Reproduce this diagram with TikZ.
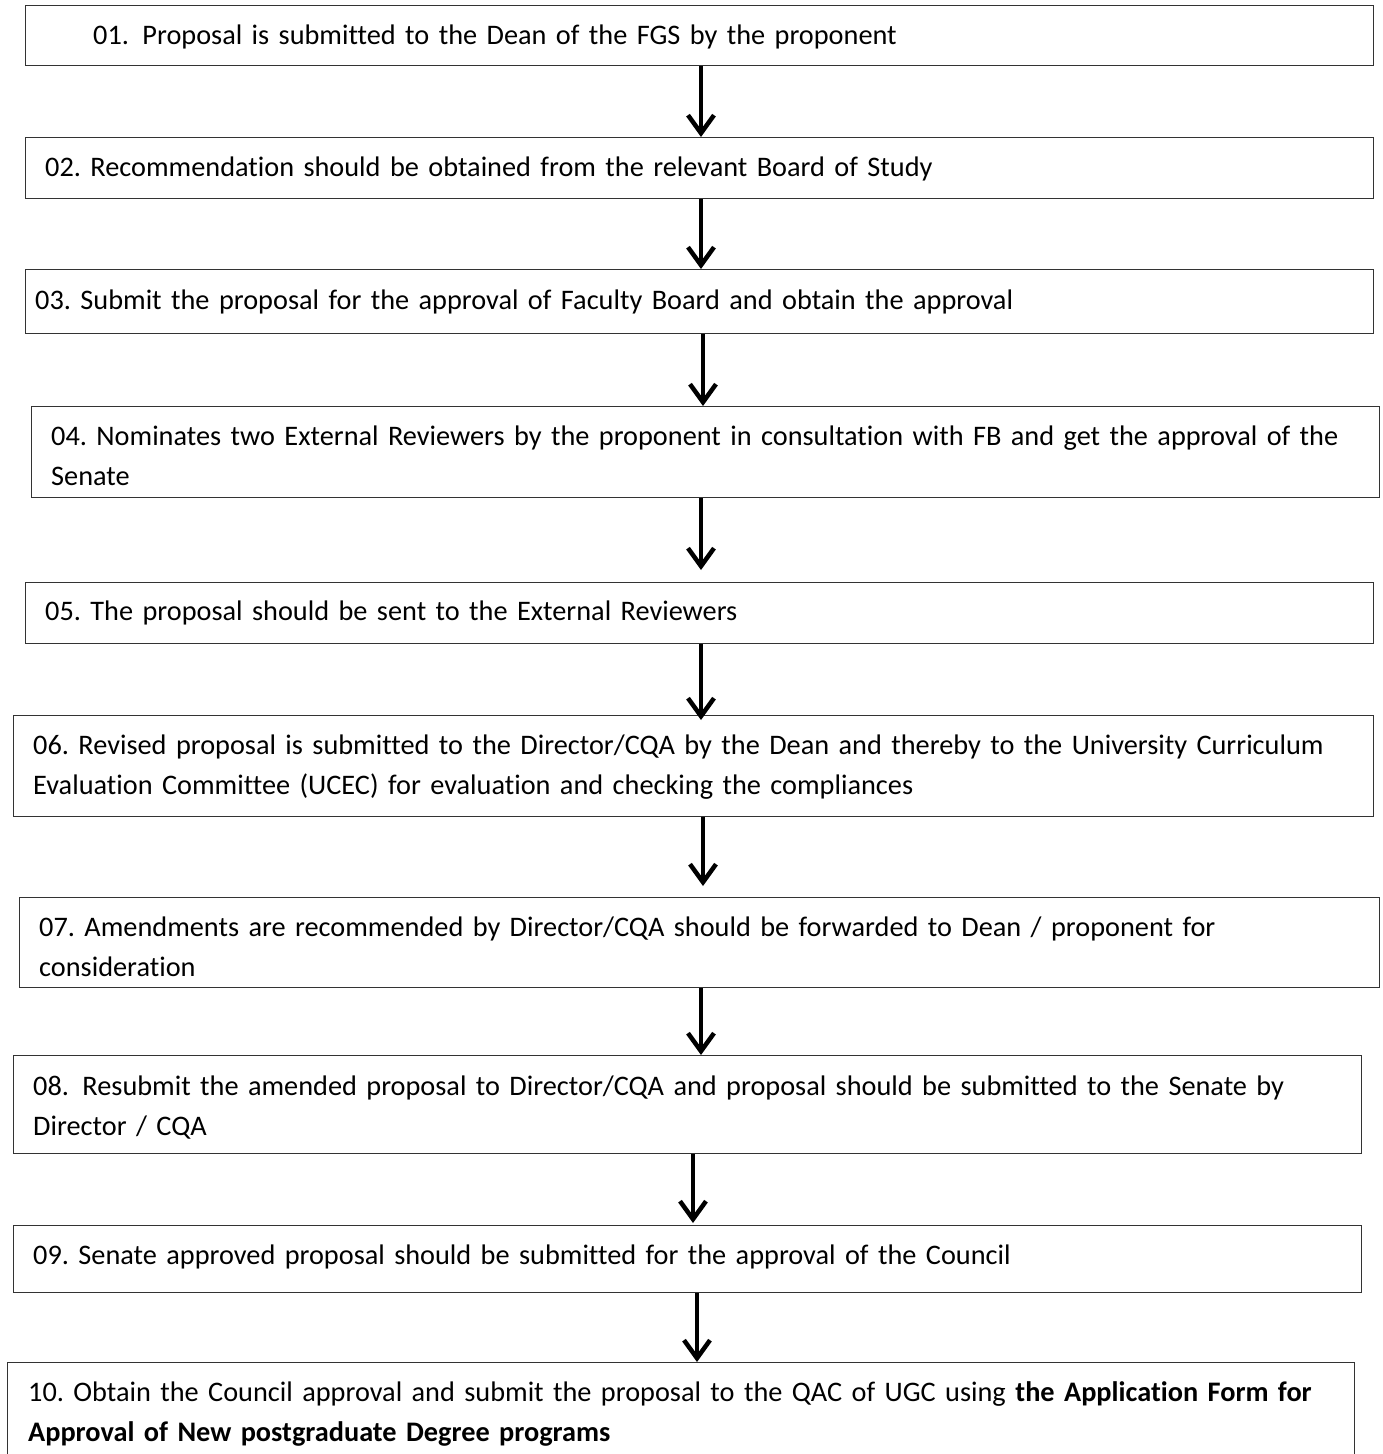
\documentclass[tikz,border=0pt]{standalone}
\usepackage{fontspec}
\setmainfont{Carlito}[Ligatures=NoCommon]
\usetikzlibrary{arrows.meta}
\begin{document}
\frenchspacing
\begin{tikzpicture}[x=1pt,y=1pt,
  stepbox/.style={rectangle, draw=black!80, line width=1.3pt, inner sep=0pt, anchor=north west},
  steptext/.style={anchor=base west, inner sep=0pt, text width=1340pt, align=left,
    font=\frenchspacing\fontsize{28.3}{40.5}\selectfont},
  flowarrow/.style={line width=4pt, draw=black,
    -{Straight Barb[length=18pt,width=26pt,line width=4.5pt]}}]
\useasboundingbox (0,0) rectangle (1382,-1454);
\clip (0,0) rectangle (1382,-1454);
% boxes
\node[stepbox, minimum width=1348pt, minimum height=60pt] (b1) at (25,-5) {};
\node[stepbox, minimum width=1348pt, minimum height=61pt] (b2) at (25,-137) {};
\node[stepbox, minimum width=1348pt, minimum height=64pt] (b3) at (25,-269) {};
\node[stepbox, minimum width=1348pt, minimum height=91pt] (b4) at (31,-406) {};
\node[stepbox, minimum width=1348pt, minimum height=61pt] (b5) at (25,-582) {};
\node[stepbox, minimum width=1360pt, minimum height=101pt] (b6) at (13,-715) {};
\node[stepbox, minimum width=1360pt, minimum height=90pt] (b7) at (19,-897) {};
\node[stepbox, minimum width=1348pt, minimum height=98pt] (b8) at (13,-1055) {};
\node[stepbox, minimum width=1348pt, minimum height=67pt] (b9) at (13,-1225) {};
\node[stepbox, minimum width=1347pt, minimum height=110pt] (b10) at (7,-1362) {};
% texts
\node[steptext] (t1) at (93,-44) {01.\ \hspace{4pt}Proposal is submitted to the Dean of the FGS by the proponent};
\node[steptext] (t2) at (45,-176) {02. Recommendation should be obtained from the relevant Board of Study};
\node[steptext] (t3) at (35,-309) {03. Submit the proposal for the approval of Faculty Board and obtain the approval};
\node[steptext] (t4) at (51,-445) {04. Nominates two External Reviewers by the proponent in consultation with FB and get the approval of the\\Senate};
\node[steptext] (t5) at (45,-620) {05. The proposal should be sent to the External Reviewers};
\node[steptext] (t6) at (33,-754) {06. Revised proposal is submitted to the Director/CQA by the Dean and thereby to the University Curriculum\\Evaluation Committee (UCEC) for evaluation and checking the compliances};
\node[steptext] (t7) at (39,-936) {07. Amendments are recommended by Director/CQA should be forwarded to Dean / proponent for\\consideration};
\node[steptext] (t8) at (33,-1095) {08.\ \hspace{4pt}Resubmit the amended proposal to Director/CQA and proposal should be submitted to the Senate by\\Director / CQA};
\node[steptext] (t9) at (33,-1264) {09. Senate approved proposal should be submitted for the approval of the Council};
\node[steptext] (t10) at (28,-1401) {10. Obtain the Council approval and submit the proposal to the QAC of UGC using \textbf{the Application Form for}\\\textbf{Approval of New postgraduate Degree programs}};
% arrows
\draw[flowarrow] (b1.south -| 701,0) -- (b2.north -| 701,0);
\draw[flowarrow] (b2.south -| 701,0) -- (b3.north -| 701,0);
\draw[flowarrow] (b3.south -| 703,0) -- (b4.north -| 703,0);
\draw[flowarrow, shorten >=12pt] (b4.south -| 701,0) -- (b5.north -| 701,0);
\draw[flowarrow, shorten >=-5pt] (b5.south -| 701,0) -- (b6.north -| 701,0);
\draw[flowarrow, shorten >=11pt] (b6.south -| 703,0) -- (b7.north -| 703,0);
\draw[flowarrow] (b7.south -| 701,0) -- (b8.north -| 701,0);
\draw[flowarrow, shorten >=2pt] (b8.south -| 693,0) -- (b9.north -| 693,0);
\draw[flowarrow] (b9.south -| 697,0) -- (b10.north -| 697,0);
\end{tikzpicture}
\end{document}
